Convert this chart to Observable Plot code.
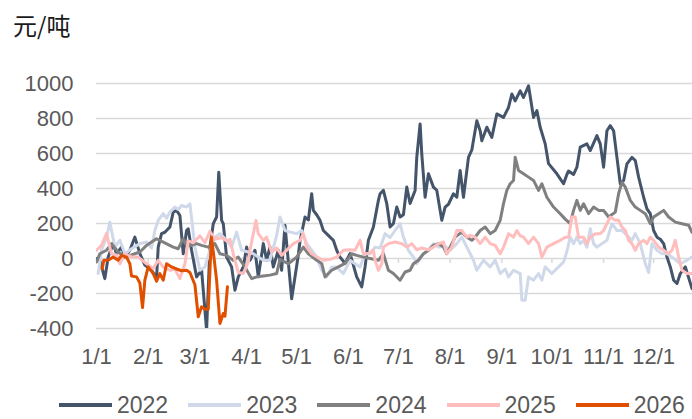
<!DOCTYPE html>
<html>
<head>
<meta charset="utf-8">
<script src="https://cdn.jsdelivr.net/npm/d3@7"></script>
<script src="https://cdn.jsdelivr.net/npm/@observablehq/plot@0.6"></script>
<style>
  html, body { margin: 0; padding: 0; background: #fff; }
  #wrap { position: relative; width: 692px; height: 419px; font-family: "Liberation Sans", Arial, sans-serif; }
  #chart { position: absolute; left: 0; top: 0; }
  #title { position: absolute; left: 13px; top: 13px; font-family: "Noto Sans CJK SC", sans-serif; font-size: 24px; line-height: 1; color: #1a1a1a; }
  #legend { position: absolute; left: 59px; top: 392px; display: flex; align-items: center; font-size: 23px; color: #595959; line-height: 26px; }
  .item { display: flex; align-items: center; margin-right: 20px; }
  .sw { width: 53px; height: 4px; margin-right: 5px; }
</style>
</head>
<body>
<div id="wrap">
  <div id="chart"></div>
  <div id="title">元/吨</div>
  <div id="legend"></div>
</div>
<script>
// Day offsets from Jan 1 and values (元/吨) per year
const days2022 = [0,2,5,7,10,12,15,17,20,23,26,29,33,36,37,39,41,44,46,48,50,52,54,55,57,60,63,66,68,70,72,73.3,75,76,78,81,83,85,88,90,92,95,97,100,102,104,106,109,111,113,117,121,122,125,127,129,130,132,134,136,140,142,144,146,149,152,156,159,161,163,166,169,170,172,174,176,178,180,182,184,186,188,191,192,194,195,197,199,202,204,206,207,209,211,214,216,218,220,223,225,228,230,231,234,237,240,244,247,249,251,254,256,259,262,264,266,269,271,276,280,282,283,286,288,290,294,296,300,302,304,306,308,310,312,314,316,318,321,323,325,328,330,332,334,336,338,340,342,344,346,348,350,353,357];
const vals2022 = [0,-10,-115,8,85,27,65,8,47,122,28,-38,-67,-110,65,142,150,180,265,275,246,27,160,170,47,-105,-67,-409,65,199,237,493,218,199,8,-48,-181,-105,-48,65,-10,47,-105,85,-10,65,-48,47,-67,190,-230,20,100,237,220,370,275,250,218,160,122,104,47,8,-28,28,-105,-162,-48,104,180,332,370,389,314,180,200,294,237,250,408,314,389,578,769,598,350,484,408,390,275,218,294,310,370,350,503,350,578,620,787,730,673,750,692,826,806,863,940,901,958,920,987,806,845,750,655,542,484,427,480,500,480,522,636,655,617,702,655,522,730,759,730,578,427,446,541,578,560,465,350,284,256,160,122,110,85,8,-48,-124,-143,-86,-48,-172,-172];

const days2023 = [1,3,6,8,11,14,17,21,26,30,33,35,37,40,42,44,47,49,51,54,56,59,62,65,68,71,74,78,81,84,87,91,94,100,104,108,110,113,116,120,123,126,129,132,135,138,141,144,148,152,155,158,161,164,167,170,173,176,179,182,184,187,190,192,195,199,202,205,209,212,216,219,223,226,228,232,236,239,242,245,247,250,254,255,257,259,262,265,267,269,273,277,280,282,284,286,288,290,292,294,296,298,300,303,306,309,312,315,318,321,323,326,329,331,333,336,339,342,345,350,354,357];
const vals2023 = [-86,47,122,208,65,104,27,56,85,94,60,160,218,256,230,265,294,280,303,294,313,65,-67,-48,47,122,142,104,65,151,47,37,27,-10,-10,132,237,160,151,142,160,85,47,8,-67,-105,-48,-50,-86,-10,-30,-48,27,27,65,60,142,120,160,199,122,47,8,-30,18,47,85,65,70,47,85,122,47,-10,-67,-10,-48,-10,-86,-60,-105,-67,-86,-238,-238,-105,-124,-86,-124,-48,-86,-48,-20,40,122,85,122,85,104,65,170,85,65,85,104,199,160,160,132,104,142,85,-30,-80,85,47,27,27,8,-30,-10,8];

const days2024 = [0,2,6,9,13,17,21,26,30,33,36,40,46,49,52,54,57,60,63,67,71,74,78,82,85,89,93,96,100,104,108,110,115,120,124,127,132,135,137,141,145,149,153,156,160,164,169,172,175,178,182,185,188,190,193,196,199,202,205,208,210,212,215,219,222,225,227,230,233,236,239,242,244,246,248,250,251,253,256,259,262,265,267,270,274,278,281,284,286,288,290,292,295,298,301,304,307,311,313,315,317,320,323,326,329,332,334,337,340,343,347,351,355,357];
const vals2024 = [-20,27,47,85,37,8,20,37,75,94,113,94,65,56,113,75,75,85,75,65,85,27,18,-10,8,-48,-115,-105,-100,-95,-86,-5,-30,8,65,27,-10,-28,-105,-67,-48,-28,27,18,8,0,-10,27,-67,-86,-124,-77,-67,-30,-10,27,47,75,85,65,27,65,122,151,122,104,122,160,180,142,160,218,313,389,427,446,578,503,484,465,446,389,427,350,294,256,225,199,275,332,275,313,256,294,275,275,237,265,370,436,408,332,294,275,256,199,237,256,275,237,208,199,190,150];

const days2025 = [0,3,6,9,12,14,17,21,25,30,34,37,40,44,47,50,53,55,58,62,65,68,71,75,78,80,82,85,88,91,92,95.6,97,100,102,105,108,111,114,118,122,124,126,129,132,136,140,144,148,152,155,158,160,163,166,167,169,171,172,175,179,183,186,189,192,195,199,202,205,208,210,213,216,219,222,224,227,230,233,236,239,242,244,247,250,252,254,256,259,262,265,267,270,274,278,281,283,285,287,289,292,294,296,299,302,304,306,308,311,313,315,317,319,321,323,325,328,330,332,334,337,340,343,345,347,349,351,354,357];
const vals2025 = [47,75,142,27,20,-30,27,10,8,-30,-57,-10,-50,-67,-60,-115,-30,100,90,130,90,155,110,120,100,110,27,-80,-86,-20,47,218,142,104,122,37,60,18,47,85,104,142,65,27,10,-10,-5,8,47,50,47,104,27,27,47,-10,-67,-30,65,85,94,85,65,85,50,60,50,65,85,94,27,65,160,160,122,132,122,85,122,85,75,27,65,142,122,160,130,122,85,122,85,8,65,85,104,122,122,237,237,122,122,85,122,142,142,160,199,237,218,218,180,160,104,85,47,85,104,85,122,104,65,47,27,47,104,8,-67,-86,-86];

const days2026 = [3.4,4.4,7,10,13,15,18,20,21,24,26,27.6,29,31,34,36,38,40,42,45,48,51,54,56,59,61,63,65,67,68.9,70,72,74,76,77,78.5];
const vals2026 = [-60,-10,-10,8,-10,18,8,-30,-100,-105,-140,-280,-124,-48,-86,-130,-86,-124,-30,-48,-60,-70,-67,-80,-150,-333,-276,-290,-290,122,40,-124,-371,-314,-330,-162];

const years = ["2022","2023","2024","2025","2026"];
const colors = ["#44546a","#cfd9ea","#808080","#ffbdbd","#e04f00"];
const yTicks = [-400,-200,0,200,400,600,800,1000];
const monthLabels = ["1/1","2/1","3/1","4/1","5/1","6/1","7/1","8/1","9/1","10/1","11/1","12/1"];

const base = Date.UTC(2023, 0, 1);
const toDate = d => new Date(base + d * 864e5);
const seriesDays = [days2022, days2023, days2024, days2025, days2026];
const seriesVals = [vals2022, vals2023, vals2024, vals2025, vals2026];
const series = years.map((y, i) => seriesDays[i].map((d, j) => ({year: y, date: toDate(d), value: seriesVals[i][j]})));
const monthTicks = monthLabels.map((_, i) => new Date(Date.UTC(2023, i, 1)));

const chart = Plot.plot({
  width: 692,
  height: 419,
  marginLeft: 96,
  marginRight: 0,
  marginTop: 83,
  marginBottom: 91,
  style: {fontFamily: "'Liberation Sans', Arial, sans-serif", fontSize: "22px", color: "#595959", background: "#fff", overflow: "hidden"},
  x: {type: "utc", domain: [toDate(0), toDate(357.3)], ticks: monthTicks, tickFormat: d => monthLabels[monthTicks.findIndex(m => +m === +d)], tickSize: 0, tickPadding: 20, label: null},
  y: {domain: [-400, 1000], ticks: yTicks, tickFormat: d => String(d), tickSize: 0, tickPadding: 23, label: null},
  marks: [
    Plot.ruleY(yTicks, {stroke: "#d9d9d9", strokeWidth: 1.5}),
    Plot.ruleX(monthTicks, {x: d => d, y1: 0, y2: -28, stroke: "#d9d9d9", strokeWidth: 1.5}),
    ...series.map((s, i) => Plot.line(s, {x: "date", y: "value", stroke: colors[i], strokeWidth: 3, strokeLinejoin: "round", clip: true}))
  ]
});
document.getElementById("chart").appendChild(chart);

const legend = document.getElementById("legend");
years.forEach((y, i) => {
  const it = document.createElement("div");
  it.className = "item";
  const sw = document.createElement("div");
  sw.className = "sw";
  sw.style.background = colors[i];
  const tx = document.createElement("span");
  tx.textContent = y;
  it.appendChild(sw); it.appendChild(tx);
  legend.appendChild(it);
});
</script>
</body>
</html>
